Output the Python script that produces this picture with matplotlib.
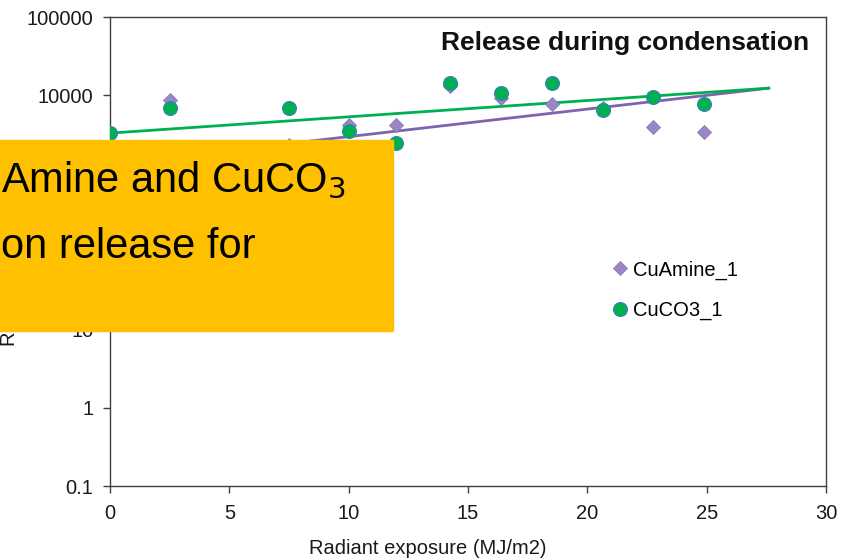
import numpy as np
import matplotlib
matplotlib.use("Agg")
import matplotlib.pyplot as plt

plt.rcParams["font.family"] = ["Liberation Sans", "DejaVu Sans"]

# exposure values (MJ/m2)
x_amine = [0, 2.5, 7.5, 10.0, 12.0, 14.25, 16.4, 18.5, 20.65, 22.75, 24.9]
y_amine = [3270, 8630, 2300, 4130, 4200, 13000, 9150, 7670, 6800, 3900, 3360]
x_co3 = [0, 2.5, 7.5, 10.0, 12.0, 14.25, 16.4, 18.5, 20.65, 22.75, 24.9]
y_co3 = [3270, 6800, 6800, 3460, 2430, 14200, 10600, 14200, 6430, 9430, 7670]

# exponential trendlines y = a*exp(b*x)
trend_amine = (1310, 0.0811)
trend_co3 = (3270, 0.048)
trend_x_end = 27.6

purple = "#9B86C6"
purple_line = "#7F63AE"
green = "#00B050"

fig = plt.figure(figsize=(8.42, 5.59), dpi=100)
ax = fig.add_axes([110 / 842, 1 - 486 / 559, 716 / 842, 469 / 559])

xt = np.linspace(0, trend_x_end, 100)
ax.plot(xt, trend_amine[0] * np.exp(trend_amine[1] * xt), color=purple_line, lw=2.0, zorder=2)
ax.plot(xt, trend_co3[0] * np.exp(trend_co3[1] * xt), color=green, lw=2.0, zorder=2)

ax.plot(x_amine, y_amine, ls="none", marker="D", ms=7.5, color=purple,
        mec="#8A75B8", mew=0.6, label="CuAmine_1", zorder=3)
ax.plot(x_co3, y_co3, ls="none", marker="o", ms=10, color=green,
        mec="#3A7FBF", mew=0.8, label="CuCO3_1", zorder=4)

ax.set_yscale("log")
ax.set_ylim(0.1, 100000)
ax.set_xlim(0, 30)
ax.set_xticks([0, 5, 10, 15, 20, 25, 30])
ax.set_yticks([0.1, 1, 10, 100, 1000, 10000, 100000])
ax.set_yticklabels(["0.1", "1", "10", "100", "1000", "10000", "100000"])
ax.yaxis.set_minor_locator(matplotlib.ticker.NullLocator())
ax.tick_params(labelsize=14.5, direction="out", length=5, width=1, color="#404040",
               labelcolor="#1a1a1a")
ax.tick_params(axis="x", pad=8)
ax.tick_params(axis="y", pad=7)
for s in ax.spines.values():
    s.set_color("#404040")
    s.set_linewidth(1.0)

fig.text(428 / 842, 1 - 548 / 559, "Radiant exposure (MJ/m2)", fontsize=14.5,
         ha="center", va="center", color="#1a1a1a")
fig.text(10 / 842, 1 - 346 / 559, "Release (mg/m2)", rotation=90, fontsize=14.5,
         ha="center", va="bottom", color="#1a1a1a")

ax.text(0.976, 0.97, "Release during condensation", transform=ax.transAxes,
        ha="right", va="top", fontsize=19, fontweight="bold", color="#111111")

ax.legend(loc="upper left", bbox_to_anchor=(0.692, 0.498), frameon=False,
          fontsize=14.5, handlelength=0.6, handletextpad=0.35, labelspacing=1.05,
          borderaxespad=0)

# orange overlay box from slide
fig.patches.append(plt.Rectangle((0, 1 - 331 / 559), 393 / 842, 191 / 559,
                                 transform=fig.transFigure, color="#FFC000", zorder=10))
fig.text(1 / 842, 1 - 192 / 559, r"Amine and CuCO$_{3}$", fontsize=30, ha="left",
         va="baseline", color="black", zorder=11)
fig.text(1 / 842, 1 - 258 / 559, "on release for", fontsize=30, ha="left",
         va="baseline", color="black", zorder=11)

fig.savefig("out.png", dpi=100)
